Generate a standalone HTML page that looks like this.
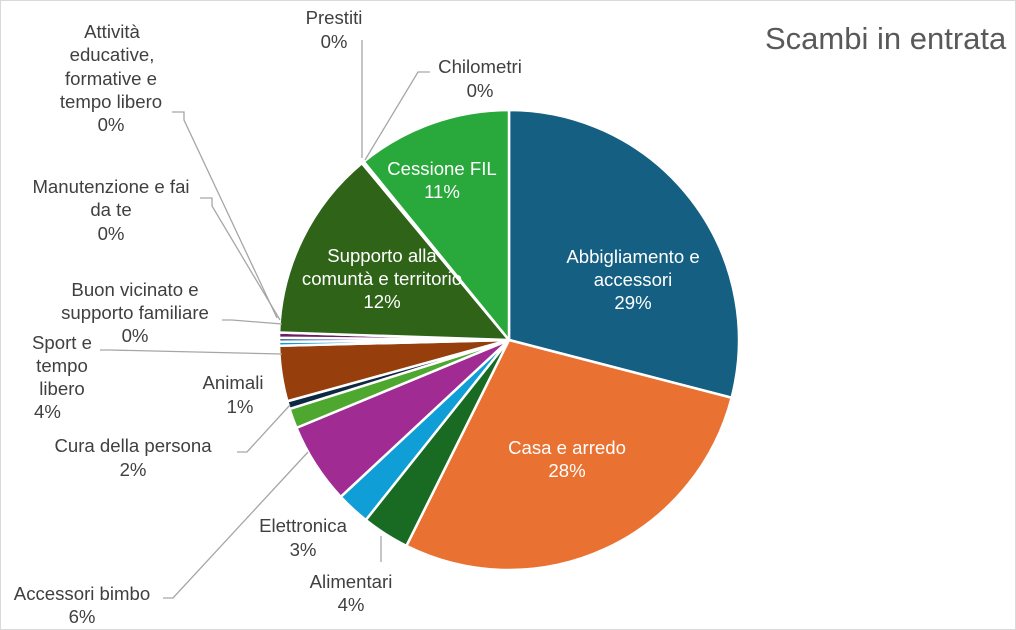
<!DOCTYPE html>
<html><head><meta charset="utf-8">
<style>
html,body{margin:0;padding:0;background:#fff;}
svg{display:block;}
text{font-family:"Liberation Sans",Arial,sans-serif;font-size:18.6px;fill:#404040;}
.w{fill:#fff;}
</style></head>
<body>
<svg id="s" width="1016" height="630" viewBox="0 0 1016 630">
<rect x="0.5" y="0.5" width="1015" height="629" fill="#fff" stroke="#d9d9d9"/>
<g id="pie"></g>
<g stroke="#a6a6a6" stroke-width="1.3" fill="none">
<polyline points="362,40 362,158"/>
<polyline points="430,72 418,72 365,160"/>
<polyline points="172,112 184,112 184,120 277,318"/>
<polyline points="200,198 212,198 212,206 280,320"/>
<polyline points="222,320 232,320 282,324"/>
<polyline points="100,350 110,350 282,354"/>
<polyline points="237,452 247,452 290,405"/>
<polyline points="163,598 173,598 308,452"/>
<polyline points="381,562 381,536"/>
</g>
<text x="765" y="49" style="font-size:31px;fill:#595959">Scambi in entrata</text>
<g text-anchor="middle">
<text x="633" y="263" class="w">Abbigliamento e</text>
<text x="633" y="286" class="w">accessori</text>
<text x="633" y="309" class="w">29%</text>
<text x="567" y="454" class="w">Casa e arredo</text>
<text x="567" y="477" class="w">28%</text>
<text x="382" y="262" class="w">Supporto alla</text>
<text x="382" y="285" class="w">comuntà e territorio</text>
<text x="382" y="308" class="w">12%</text>
<text x="442" y="175" class="w">Cessione FIL</text>
<text x="442" y="198" class="w">11%</text>
<text x="334" y="24">Prestiti</text>
<text x="334" y="48">0%</text>
<text x="480" y="73">Chilometri</text>
<text x="480" y="97">0%</text>
<text x="112" y="38">Attività</text>
<text x="112" y="61">educative,</text>
<text x="111" y="85">formative e</text>
<text x="111" y="108">tempo libero</text>
<text x="111" y="131">0%</text>
<text x="111" y="193">Manutenzione e fai</text>
<text x="111" y="216">da te</text>
<text x="111" y="240">0%</text>
<text x="135" y="296">Buon vicinato e</text>
<text x="135" y="319">supporto familiare</text>
<text x="135" y="342">0%</text>
<text x="62" y="349">Sport e</text>
<text x="62" y="372">tempo</text>
<text x="62" y="395">libero</text>
<text x="62" y="418" style="text-anchor:start" dx="-28">4%</text>
<text x="233" y="389">Animali</text>
<text x="240" y="413">1%</text>
<text x="133" y="452">Cura della persona</text>
<text x="133" y="476">2%</text>
<text x="303" y="532">Elettronica</text>
<text x="303" y="556">3%</text>
<text x="351" y="588">Alimentari</text>
<text x="351" y="611">4%</text>
<text x="82" y="600">Accessori bimbo</text>
<text x="82" y="623">6%</text>
</g>
</svg>
<script>
var d=[[104.4,"#156082"],[101.8,"#e97132"],[12,"#196b24"],[8.5,"#0f9ed5"],[20.5,"#a02b93"],[5,"#4ea72e"],[2,"#0e2841"],[14,"#963f0d"],[1,"#0f9ed5"],[1,"#215f9a"],[1.3,"#6e1e62"],[48.3,"#2e6318"],[0.3,"#a6a6a6"],[0.3,"#888"],[39.1,"#29a83b"]];
var cx=509,cy=340,r=230,a=0,g=document.getElementById("pie"),h="";
function p(t){t=t*Math.PI/180;return [cx+r*Math.sin(t),cy-r*Math.cos(t)];}
var tot=0;d.forEach(function(x){tot+=x[0];});
d.forEach(function(x){var s=x[0]*360/tot,b=a+s,p1=p(a),p2=p(b);
h+='<path d="M'+cx+','+cy+' L'+p1[0].toFixed(2)+','+p1[1].toFixed(2)+' A'+r+','+r+' 0 '+(s>180?1:0)+' 1 '+p2[0].toFixed(2)+','+p2[1].toFixed(2)+' Z" fill="'+x[1]+'" stroke="#fff" stroke-width="2.5" stroke-linejoin="round"/>';a=b;});
g.innerHTML=h;
</script>
</body></html>
